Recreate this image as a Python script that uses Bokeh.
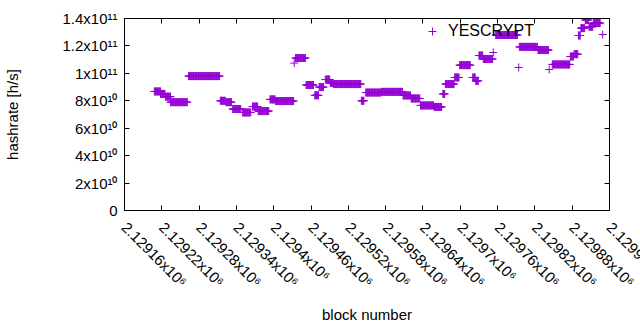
import numpy as np
from bokeh.plotting import figure
from bokeh.models import (FixedTicker, LinearAxis, Legend, LegendItem,
                          ColumnDataSource, Range1d, CustomJSTickFormatter)
from bokeh.embed import file_html
from bokeh.resources import INLINE

# ---- data: runs of consecutive blocks sharing the same hashrate estimate ----
run_start = [2129208, 2129218, 2129226, 2129234, 2129263, 2129314, 2129323,
             2129334, 2129350, 2129366, 2129375, 2129394, 2129403, 2129433,
             2129435, 2129452, 2129466, 2129473, 2129483, 2129491, 2129496,
             2129541, 2129548, 2129573, 2129608, 2129621, 2129636, 2129658,
             2129672, 2129676, 2129691, 2129699, 2129720, 2129725, 2129730,
             2129737, 2129753, 2129757, 2129794, 2129795, 2129825, 2129843,
             2129848, 2129877, 2129883, 2129890, 2129894, 2129901, 2129907,
             2129914, 2129929]
run_end = [2129218, 2129225, 2129234, 2129261, 2129313, 2129322, 2129332,
           2129347, 2129363, 2129374, 2129392, 2129402, 2129432, 2129433,
           2129451, 2129464, 2129472, 2129480, 2129490, 2129495, 2129540,
           2129545, 2129572, 2129607, 2129620, 2129635, 2129657, 2129670,
           2129675, 2129690, 2129698, 2129716, 2129724, 2129729, 2129736,
           2129752, 2129753, 2129792, 2129794, 2129824, 2129842, 2129843,
           2129876, 2129882, 2129889, 2129893, 2129900, 2129906, 2129913,
           2129925, 2129929]
run_hashrate = [8.68e10, 8.5e10, 8.3e10, 7.9e10, 9.8e10, 8.0e10, 7.9e10,
                7.4e10, 7.15e10, 7.58e10, 7.25e10, 8.1e10, 7.98e10, 1.075e11,
                1.112e11, 9.15e10, 8.4e10, 9.0e10, 9.55e10, 9.3e10, 9.22e10,
                8.0e10, 8.6e10, 8.65e10, 8.39e10, 8.17e10, 7.66e10, 7.55e10,
                8.5e10, 9.22e10, 9.7e10, 1.06e11, 9.7e10, 9.45e10, 1.13e11,
                1.105e11, 1.152e11, 1.28e11, 1.043e11, 1.193e11, 1.17e11, 1.028e11,
                1.065e11, 1.123e11, 1.14e11, 1.276e11, 1.33e11, 1.389e11, 1.34e11,
                1.367e11, 1.283e11]

x_ticks = [2129160, 2129220, 2129280, 2129340, 2129400, 2129460, 2129520,
           2129580, 2129640, 2129700, 2129760, 2129820, 2129880, 2129940]
x_tick_labels = ["2.12916x10⁶", "2.12922x10⁶", "2.12928x10⁶", "2.12934x10⁶",
                 "2.1294x10⁶", "2.12946x10⁶", "2.12952x10⁶", "2.12958x10⁶",
                 "2.12964x10⁶", "2.1297x10⁶", "2.12976x10⁶", "2.12982x10⁶",
                 "2.12988x10⁶", "2.12994x10⁶"]
y_ticks = [0, 20000000000, 40000000000, 60000000000, 80000000000,
           100000000000, 120000000000, 140000000000]
y_tick_labels = ["0", "2x10¹⁰", "4x10¹⁰", "6x10¹⁰", "8x10¹⁰",
                 "1x10¹¹", "1.2x10¹¹", "1.4x10¹¹"]
series_name = "YESCRYPT"

# expand runs to one point per block
blocks, rates = [], []
for s, e, v in zip(run_start, run_end, run_hashrate):
    for b in range(s, e + 1):
        blocks.append(b)
        rates.append(v)
src = ColumnDataSource(dict(block=blocks, hashrate=rates))

FONT = "Liberation Sans"
FS = "15px"
COLOR = "#9400d3"

p = figure(width=680, height=326, output_backend="svg", toolbar_location=None,
           x_range=Range1d(x_ticks[0], x_ticks[-1]),
           y_range=Range1d(y_ticks[0], y_ticks[-1]),
           min_border_left=124, min_border_right=71,
           min_border_top=18, min_border_bottom=116,
           x_axis_label="block number", y_axis_label="hashrate [h/s]")
p.grid.visible = False
p.outline_line_color = "black"
p.outline_line_width = 1
p.background_fill_color = "white"
p.border_fill_color = "white"

r = p.scatter(x="block", y="hashrate", source=src, marker="cross", size=8,
              line_color=COLOR, line_width=1)

def style(ax):
    ax.major_tick_in = 5
    ax.major_tick_out = 0
    ax.minor_tick_line_color = None
    ax.major_tick_line_color = "black"
    ax.axis_line_color = "black"
    ax.major_label_text_font = FONT
    ax.major_label_text_font_size = FS
    ax.major_label_text_color = "black"
    ax.axis_label_text_font = FONT
    ax.axis_label_text_font_size = FS
    ax.axis_label_text_font_style = "normal"
    ax.axis_label_text_color = "black"

blank = CustomJSTickFormatter(code="return ''")

xa = p.xaxis[0]
xa.ticker = FixedTicker(ticks=x_ticks)
xa.major_label_overrides = {t: l for t, l in zip(x_ticks, x_tick_labels)}
xa.major_label_orientation = -np.pi / 4
xa.major_label_standoff = 14
xa.axis_label_standoff = 7
style(xa)

ya = p.yaxis[0]
ya.ticker = FixedTicker(ticks=y_ticks)
ya.major_label_overrides = {t: l for t, l in zip(y_ticks, y_tick_labels)}
ya.major_label_standoff = 7
ya.axis_label_standoff = 38
style(ya)

ra = LinearAxis(ticker=FixedTicker(ticks=y_ticks), formatter=blank)
style(ra)
ra.major_label_standoff = 0
ra.major_label_text_font_size = "0px"
p.add_layout(ra, "right")
ta = LinearAxis(ticker=FixedTicker(ticks=x_ticks), formatter=blank)
style(ta)
ta.major_label_standoff = 0
ta.major_label_text_font_size = "0px"
p.add_layout(ta, "above")

legend = Legend(items=[LegendItem(label=series_name, renderers=[r])],
                location=(298, 169), background_fill_alpha=0,
                border_line_color=None, padding=0, margin=0, spacing=0,
                glyph_width=20, glyph_height=20, label_standoff=6,
                label_text_font=FONT, label_text_font_size="16px",
                label_text_color="black")
legend.level = "underlay"
p.add_layout(legend)

open("out.html", "w").write(file_html(p, INLINE))
